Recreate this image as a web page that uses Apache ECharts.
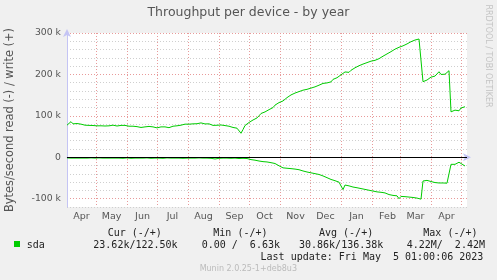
<!DOCTYPE html>
<html>
<head>
<meta charset="utf-8">
<script src="https://cdn.jsdelivr.net/npm/echarts@6/dist/echarts.min.js"></script>
<style>
html,body{margin:0;padding:0;background:#f0f0f0;}
#chart{width:497px;height:280px;}
</style>
</head>
<body>
<div id="chart"></div>
<script>
// ---- data (values in k bytes/s, one sample every 2 days from the start date) ----
const startDate = Date.UTC(2022, 3, 1, 12);
const stepDays = 2;
const spanDays = 400;
const monthNames = ['Jan','Feb','Mar','Apr','May','Jun','Jul','Aug','Sep','Oct','Nov','Dec'];
const yTickLabels = {'-100000':'-100 k','0':'0','100000':'100 k','200000':'200 k','300000':'300 k'};

const writeK = [
 77.5,75,86,80.7,80.7,81.5,80.7,80,79,77.5,
 76.7,77,76.2,76.7,76,75.9,75.5,76,75.9,75.5,
 76,75.9,76.5,77.5,75.9,75.5,76.2,77,78.5,77,
 75,75,74.5,75,74.8,74,73.4,72,71,73.4,
 73.8,74.5,75,73.4,72.5,71,73.4,73.4,74,73.4,
 73,71.5,72.5,75,75.5,76,76.7,77.5,79,80,
 79.9,79.9,80.3,80.7,80,81,81.5,83,81,80.5,
 80.7,80.7,80.5,77,75.9,77.3,77.5,78,78.3,76.5,
 75,75,74.2,72,70.2,70.2,68,58,67,76.7,
 81.5,84,88,90,91.5,95,100,105.7,108,109.5,
 111,115,118,120,125.9,128,132,134.5,136,140.4,
 144,148,150.5,153,155,156.6,158.5,160,162,163.5,
 164,165.5,167,168,170,172,174,176,178.3,179,
 179.5,180,182,188,191,192,196,199,202,206,
 205.5,205,210,214.5,216,218,221,223,225,227,
 228.5,230,232,233,234,236.4,238,242,244,247,
 249.5,252,255,258.5,261,263,265.5,267.5,269,271,
 273.6,276,279,281.5,283,284,285.5,290,182.5,184,
 186.5,190,193.5,195,196,197,206.5,200,200.5,200.5,
 201,209,109.7,109.7,113.8,113,112.2,119,120.5,122
];

const readK = [
 -1.5,-5.5,-2,-1.5,-2,-2.5,-2,-1.5,-2,-2.5,
 -2,-2,-1.5,-2.5,-2,-2,-1.5,-2.5,-2,-3,
 -2,-1.5,-2,-2.5,-2,-1.5,-2,-2,-2.5,-2,
 -1.5,-2,-2.5,-2,-2,-1.5,-2,-3,-2,-2,
 -1.5,-2,-2.5,-2,-2,-1.5,-2,-2,-2.5,-2,
 -1.5,-2,-2,-2.5,-2,-1.5,-2,-2,-2.5,-2,
 -2,-1.5,-2,-2.5,-2,-2,-1.5,-2,-2,-2.5,
 -2,-2,-2.5,-3,-4,-3.5,-2.5,-2,-2,-2.5,
 -2,-2,-2.5,-2,-2,-2.5,-3,-2,-2.5,-2.5,
 -3,-4,-5.6,-6,-7,-7.5,-9,-9.5,-10.5,-11.5,
 -11.3,-12,-13,-13.7,-15,-18,-20.5,-24,-25.5,-26,
 -26.5,-27,-27.4,-28,-28.5,-29,-30,-31.5,-33,-34,
 -35.5,-36.5,-37.5,-38.5,-39.5,-40.5,-41.5,-43,-45,-47.5,
 -49.2,-51.5,-53.5,-55,-56.5,-57.5,-60,-63,-78,-67,
 -67.5,-69,-70.5,-71.8,-72.5,-73.5,-74.5,-75.5,-76.7,-77.5,
 -78.5,-79.5,-80.5,-81.5,-82.5,-83.5,-84,-84.5,-84.7,-86,
 -88,-90,-91,-92,-92.8,-93,-100,-94.4,-94.5,-95,
 -95.5,-96,-96.5,-97,-98,-98.5,-100,-101,-57.3,-56,
 -55.7,-57,-58.5,-59.7,-61,-62,-62,-62.1,-62,-62.1,
 -62.5,-65.4,-17,-17,-17,-14,-12,-16,-18,-21
];

const legendName = 'sda';
const legendHeaders = ['Cur (-/+)','Min (-/+)','Avg (-/+)','Max (-/+)'];
const legendValues = ['23.62k/122.50k','0.00 /  6.63k','30.86k/136.38k','4.22M/  2.42M'];
const lastUpdate = 'Last update: Fri May  5 01:00:06 2023';
const footer = 'Munin 2.0.25-1+deb8u3';

// ---- build (x axis is in days since startDate) ----
const DAY = 86400000;
const toSeries = arr => arr.map((v, i) => [i * stepDays, v * 1000]);

const monthStarts = [];
const monthMids = [];
for (let y = 2022; y <= 2023; y++) {
  for (let m = 0; m < 12; m++) {
    const s = (Date.UTC(y, m, 1) - startDate) / DAY;
    const mid = (Date.UTC(y, m, 16) - startDate) / DAY;
    if (s > 0 && s < spanDays) monthStarts.push(s);
    if (mid > 0 && mid < spanDays) monthMids.push(mid);
  }
}

const GREEN = '#00cc00';
const RED = '#e89a9a';
const GRAY = '#cfcfcf';
const AXIS = '#c4c4f4';
const MONO = '"DejaVu Sans Mono", monospace';

const chart = echarts.init(document.getElementById('chart'), null, {renderer: 'canvas'});

const headerX = [107.7, 213.3, 319, 423.3];
const valueX = [93.3, 201.7, 299, 406.7];
const graphics = [
  {type: 'rect', shape: {x: 14, y: 241, width: 6, height: 6}, style: {fill: GREEN}},
  {type: 'text', x: 26.7, y: 245.3, style: {text: legendName, font: '10px ' + MONO, fill: '#222', textVerticalAlign: 'middle'}},
  {type: 'text', x: 483.3, y: 257.7, style: {text: lastUpdate, font: '10px ' + MONO, fill: '#222', textAlign: 'right', textVerticalAlign: 'middle'}},
  {type: 'text', x: 248.3, y: 269.3, style: {text: footer, font: '8px "DejaVu Sans"', fill: '#bbbbbb', textAlign: 'center', textVerticalAlign: 'middle'}},
  {type: 'text', x: 488, y: 56, rotation: -Math.PI / 2, style: {text: 'RRDTOOL / TOBI OETIKER', font: '8px "DejaVu Sans"', fill: '#c4c4c4', textAlign: 'center', textVerticalAlign: 'middle'}}
];
legendHeaders.forEach((t, i) => graphics.push({type: 'text', x: headerX[i], y: 233.3, style: {text: t, font: '10px ' + MONO, fill: '#222', textVerticalAlign: 'middle'}}));
legendValues.forEach((t, i) => graphics.push({type: 'text', x: valueX[i], y: 245.3, style: {text: t, font: '10px ' + MONO, fill: '#222', textVerticalAlign: 'middle'}}));

chart.setOption({
  backgroundColor: '#f0f0f0',
  animation: false,
  title: {
    text: 'Throughput per device - by year',
    left: 'center', top: 6, padding: 0,
    textStyle: {fontFamily: 'DejaVu Sans', fontSize: 12.5, fontWeight: 'normal', color: '#555'}
  },
  grid: {left: 67, right: 30, top: 33, bottom: 73, show: true, backgroundColor: '#ffffff', borderWidth: 0,
         containLabel: false, outerBoundsMode: 'none'},
  xAxis: {
    type: 'value', min: 0, max: spanDays,
    axisLine: {show: true, lineStyle: {color: AXIS, width: 1}, symbol: ['none', 'arrow'], symbolSize: [6, 8], symbolOffset: [0, 4]},
    axisTick: {show: true, customValues: monthStarts, length: 3, lineStyle: {color: RED, type: [1, 1]}},
    axisLabel: {
      customValues: monthMids, margin: 5, color: '#555', fontFamily: 'DejaVu Sans', fontSize: 9.5,
      formatter: v => monthNames[new Date(startDate + v * DAY).getUTCMonth()]
    },
    splitLine: {show: true, lineStyle: {color: RED, type: [1, 2], width: 1}}
  },
  yAxis: {
    type: 'value', min: -120000, max: 300000, interval: 20000,
    name: 'Bytes/second read (-) / write (+)', nameLocation: 'middle', nameRotate: 90, nameGap: 51,
    nameTextStyle: {fontFamily: 'DejaVu Sans', fontSize: 11.4, color: '#555'},
    axisLine: {show: true, lineStyle: {color: AXIS, width: 1}, symbol: ['none', 'arrow'], symbolSize: [6, 8], symbolOffset: [0, 4]},
    axisTick: {show: false},
    axisLabel: {
      margin: 6, color: '#555', fontFamily: 'DejaVu Sans', fontSize: 9.3,
      formatter: v => (yTickLabels[String(v)] !== undefined ? yTickLabels[String(v)] : '')
    },
    splitLine: {show: true, lineStyle: {color: [GRAY, RED, GRAY, GRAY, GRAY], type: [1, 2], width: 1}}
  },
  series: [
    {
      name: 'write', type: 'line', data: toSeries(writeK), showSymbol: false, symbol: 'none',
      lineStyle: {color: GREEN, width: 1}, itemStyle: {color: GREEN}, silent: true, z: 3
    },
    {
      name: 'read', type: 'line', data: toSeries(readK), showSymbol: false, symbol: 'none',
      lineStyle: {color: GREEN, width: 1}, itemStyle: {color: GREEN}, silent: true, z: 3,
      markLine: {
        silent: true, symbol: 'none', label: {show: false},
        lineStyle: {color: '#000', width: 1, type: 'solid'},
        data: [{yAxis: 0}]
      }
    }
  ],
  graphic: graphics
});
</script>
</body>
</html>
